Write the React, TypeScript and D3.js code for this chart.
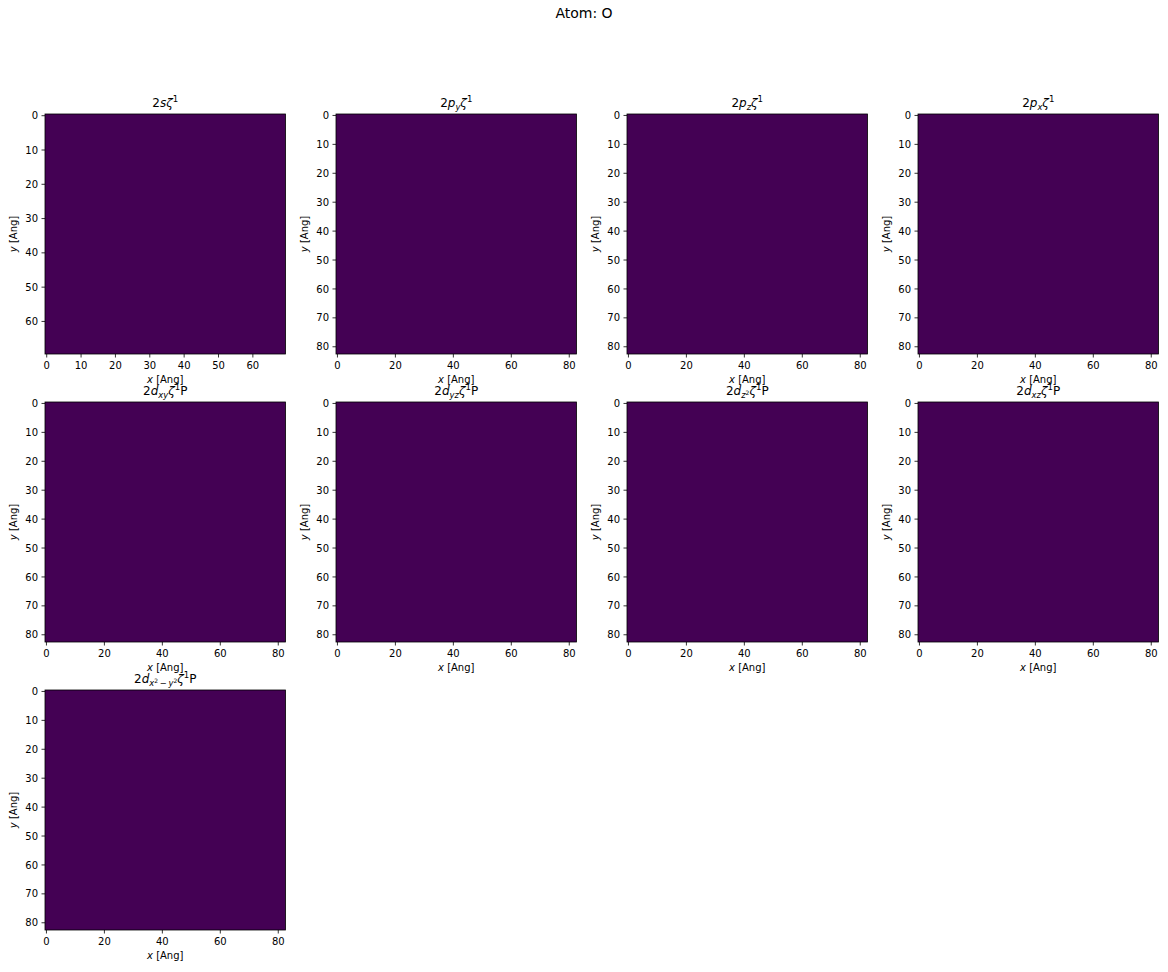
import React from "react";
import * as d3 from "d3";

// ---- data ----
const figureTitle = "Atom: O";
const xLabelText = "[Ang]";
const yLabelText = "[Ang]";

// title pieces: [text, italic, level] level: 0 base, -1 sub, 1 sup, -2 sup-in-sub
type Seg = [string, boolean, number];
const panelTitles: Seg[][] = [
  [["2", false, 0], ["s", true, 0], ["ζ", true, 0], ["1", false, 1]],
  [["2", false, 0], ["p", true, 0], ["y", true, -1], ["ζ", true, 0], ["1", false, 1]],
  [["2", false, 0], ["p", true, 0], ["z", true, -1], ["ζ", true, 0], ["1", false, 1]],
  [["2", false, 0], ["p", true, 0], ["x", true, -1], ["ζ", true, 0], ["1", false, 1]],
  [["2", false, 0], ["d", true, 0], ["xy", true, -1], ["ζ", true, 0], ["1", false, 1], ["P", false, 0]],
  [["2", false, 0], ["d", true, 0], ["yz", true, -1], ["ζ", true, 0], ["1", false, 1], ["P", false, 0]],
  [["2", false, 0], ["d", true, 0], ["z", true, -1], ["2", false, -2], ["ζ", true, 0], ["1", false, 1], ["P", false, 0]],
  [["2", false, 0], ["d", true, 0], ["xz", true, -1], ["ζ", true, 0], ["1", false, 1], ["P", false, 0]],
  [["2", false, 0], ["d", true, 0], ["x", true, -1], ["2", false, -2], ["\u2009−\u2009", false, -1], ["y", true, -1], ["2", false, -2], ["ζ", true, 0], ["1", false, 1], ["P", false, 0]],
];
const gridSizes = [70, 83, 83, 83, 83, 83, 83, 83, 83];
const panelFieldValue = [0, 0, 0, 0, 0, 0, 0, 0, 0];
const xTicksSmall = [0, 10, 20, 30, 40, 50, 60];
const yTicksSmall = [0, 10, 20, 30, 40, 50, 60];
const xTicksLarge = [0, 20, 40, 60, 80];
const yTicksLarge = [0, 10, 20, 30, 40, 50, 60, 70, 80];

// ---- layout ----
const W = 1168;
const H = 972;
const colLefts = [45, 336, 627, 918];
const rowTops = [114, 402, 690];
const AW = 240.5;
const AH = 240;
const FONT = "DejaVu Sans, sans-serif";

const levelInfo: Record<number, { size: number; shift: number }> = {
  0: { size: 12, shift: 0 },
  [-1]: { size: 8.4, shift: 2.8 },
  1: { size: 8.6, shift: -5.2 },
  [-2]: { size: 6, shift: -0.4 },
};

function Title({ segs, x, y }: { segs: Seg[]; x: number; y: number }) {
  let cur = 0;
  return (
    <text x={x} y={y} textAnchor="middle" fontFamily={FONT} fill="#000">
      {segs.map((s, i) => {
        const info = levelInfo[s[2]];
        const dy = info.shift - cur;
        cur = info.shift;
        return (
          <tspan key={i} dy={dy} fontSize={info.size} fontStyle={s[1] ? "italic" : "normal"}>
            {s[0]}
          </tspan>
        );
      })}
    </text>
  );
}

function Panel({ idx }: { idx: number }) {
  const col = idx % 4;
  const row = Math.floor(idx / 4);
  const left = colLefts[col];
  const top = rowTops[row];
  const n = gridSizes[idx];
  const x = d3.scaleLinear().domain([-0.5, n - 0.5]).range([0, AW]);
  const y = d3.scaleLinear().domain([-0.5, n - 0.5]).range([0, AH]);
  const color = d3.scaleSequential(d3.interpolateViridis).domain([0, 1]);
  const xt = n === 70 ? xTicksSmall : xTicksLarge;
  const yt = n === 70 ? yTicksSmall : yTicksLarge;
  const v = panelFieldValue[idx];
  return (
    <g transform={`translate(${left},${top})`}>
      <rect x={x(-0.5)} y={y(-0.5)} width={x(n - 0.5) - x(-0.5)} height={y(n - 0.5) - y(-0.5)} fill={color(v)} />
      <rect x={0} y={0} width={AW} height={AH} fill="none" stroke="#000" strokeWidth={0.8} />
      {xt.map((t) => (
        <g key={"x" + t} transform={`translate(${x(t)},${AH})`}>
          <line y1={0} y2={3.5} stroke="#000" strokeWidth={0.8} />
          <text y={15} textAnchor="middle" fontSize={10} fontFamily={FONT}>{t}</text>
        </g>
      ))}
      {yt.map((t) => (
        <g key={"y" + t} transform={`translate(0,${y(t)})`}>
          <line x1={0} x2={-3.5} stroke="#000" strokeWidth={0.8} />
          <text x={-7} dy="0.36em" textAnchor="end" fontSize={10} fontFamily={FONT}>{t}</text>
        </g>
      ))}
      <text x={AW / 2} y={AH + 29} textAnchor="middle" fontSize={10} fontFamily={FONT}>
        <tspan fontStyle="italic">x</tspan> {xLabelText}
      </text>
      <text transform={`translate(-28,${AH / 2}) rotate(-90)`} textAnchor="middle" fontSize={10} fontFamily={FONT}>
        <tspan fontStyle="italic">y</tspan> {yLabelText}
      </text>
      <Title segs={panelTitles[idx]} x={AW / 2} y={-7} />
    </g>
  );
}

export default function App() {
  return (
    <>
      <style>{`body{margin:0}`}</style>
      <svg width={W} height={H} style={{ display: "block", background: "#fff" }}>
        <rect width={W} height={H} fill="#fff" />
        <text x={W / 2} y={18} textAnchor="middle" fontSize={14} fontFamily={FONT}>{figureTitle}</text>
        {panelTitles.map((_, i) => (
          <Panel key={i} idx={i} />
        ))}
      </svg>
    </>
  );
}
